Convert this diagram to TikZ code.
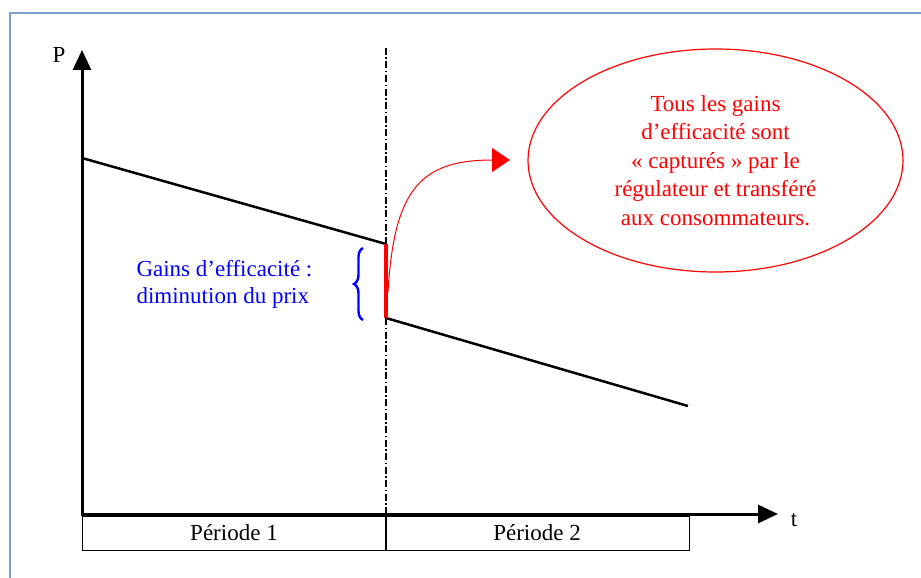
\documentclass[tikz,border=0pt]{standalone}
\usepackage{fontspec}
\setmainfont{Liberation Serif}
\usetikzlibrary{decorations.pathreplacing,arrows.meta,shapes.geometric}
\definecolor{framebl}{RGB}{124,160,210}
\begin{document}
\begin{tikzpicture}[x=1pt,y=-1pt,
  every node/.style={font=\fontsize{23}{28.6}\selectfont},
  axisline/.style={line width=3pt,-{Triangle[length=20pt,width=18pt]}},
  priceline/.style={line width=2.5pt},
  divider/.style={line width=1.1pt,dash pattern=on 7pt off 2.5pt on 1.5pt off 2.5pt},
  jumpline/.style={red,line width=3.5pt},
  callarrow/.style={red,line width=1pt,-{Triangle[length=18pt,width=24pt]}},
  callout/.style={draw=red,line width=1.2pt,ellipse,minimum width=375pt,minimum height=223pt,inner sep=0pt,text=red,align=center},
  gainlabel/.style={text=blue,align=left,anchor=west,font=\fontsize{23}{27}\selectfont},
  gainbrace/.style={blue,line width=2.4pt,decorate,decoration={brace,amplitude=9pt}},
  periodbox/.style={draw,line width=1pt,minimum width=304pt,minimum height=34pt,inner sep=0pt}
]
\useasboundingbox (0,0) rectangle (921,578);
\fill[white] (0,0) rectangle (921,578);
\draw[framebl,line width=1.5pt] (10,13) rectangle (940,600);

% axes
\coordinate (O) at (82,514);
\coordinate (Obelow) at (82,515.5);
\coordinate (Ytop) at (82,50);
\coordinate (Xend) at (778,514);
\draw[axisline] (Obelow) -- (Ytop);
\draw[axisline] (O) -- (Xend);
\node (Plab) at (59,55) {P};
\node (tlab) at (794,520) {t};

% period boxes
\node[periodbox] (P1) at (234,533) {Période 1};
\node[periodbox] (P2) at (537,533) {Période 2};

% dash-dot divider
\coordinate (Vtop) at (386,48);
\coordinate (Vbot) at (386,550);
\draw[divider] (Vtop) -- (Vbot);

% price lines
\coordinate (A) at (82,158);
\coordinate (B) at (386,244);
\coordinate (C) at (386,318);
\coordinate (D) at (688,406);
\draw[priceline] (A) -- (B);
\draw[priceline] (C) -- (D);
\draw[jumpline] (B) -- (C);

% gains label and brace
\node[gainlabel] (G) at (133,284) {Gains d’efficacité :\\diminution du prix};
\coordinate (Bbot) at (363,320);
\coordinate (Btop) at (363,248);
\draw[gainbrace] (Bbot) -- (Btop);

% callout
\node[callout] (E) at (715.5,160.5) {Tous les gains\\d’efficacité sont\\« capturés » par le\\régulateur et transféré\\aux consommateurs.};
\coordinate (Astart) at (388,292);
\coordinate (Aend) at (510,160);
\draw[callarrow] (Astart) .. controls (394,190) and (420,160) .. (Aend);
\end{tikzpicture}
\end{document}
